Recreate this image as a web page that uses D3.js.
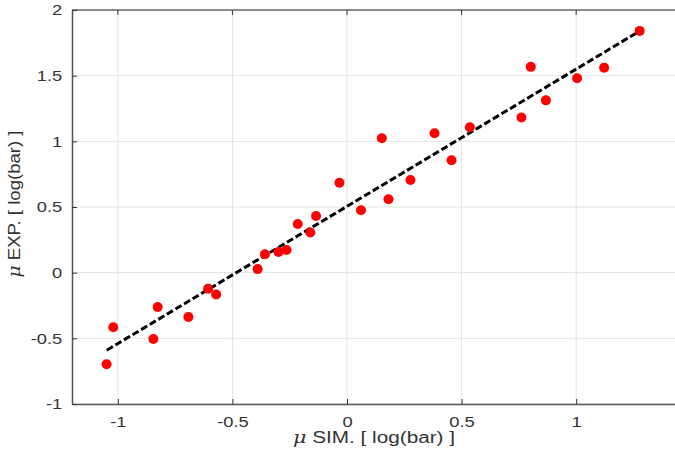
<!DOCTYPE html>
<html>
<head>
<meta charset="utf-8">
<script src="https://cdn.jsdelivr.net/npm/d3@7"></script>
<style>
	body { margin: 0; background: #fff; }
	svg { display: block; font-family: "Liberation Sans", Arial, sans-serif; }
</style>
</head>
<body>
<div id="chart"></div>
<script>
// measured values (log bar)
const simValues = [-1.049, -1.020, -0.826, -0.845, -0.692, -0.606, -0.571, -0.390, -0.358, -0.299,
	-0.264, -0.215, -0.160, -0.135, -0.033, 0.061, 0.152, 0.181, 0.277, 0.382,
	0.456, 0.536, 0.761, 0.802, 0.868, 1.004, 1.122, 1.277]
const expValues = [-0.698, -0.416, -0.261, -0.505, -0.337, -0.122, -0.166, 0.027, 0.140, 0.158,
	0.173, 0.371, 0.306, 0.432, 0.685, 0.475, 1.024, 0.559, 0.706, 1.062,
	0.856, 1.107, 1.182, 1.567, 1.312, 1.481, 1.561, 1.841]
// linear fit
const fitSlope = 1.045
const fitIntercept = 0.505
const fitRange = [-1.048, 1.262]

const xTicks = [-1, -0.5, 0, 0.5, 1]
const yTicks = [-1, -0.5, 0, 0.5, 1, 1.5, 2]

const width = 675
const height = 468
const margin = ({ top: 10, right: -2, bottom: 64, left: 72 })
const stretch = 1.22 // the picture text is a bit wide

const x = d3.scaleLinear().domain([-1.2, 1.44]).range([margin.left, width - margin.right])
const y = d3.scaleLinear().domain([-1, 2]).range([height - margin.bottom, margin.top])

const svg = d3.select("#chart").append("svg")
	.attr("width", width)
	.attr("height", height)

// grid
svg.append("g").selectAll("line")
	.data(xTicks)
	.join("line")
	.attr("x1", d => x(d)).attr("x2", d => x(d))
	.attr("y1", y(-1)).attr("y2", y(2))
	.attr("stroke", "#e3e3e3").attr("stroke-width", 1)
svg.append("g").selectAll("line")
	.data(yTicks)
	.join("line")
	.attr("x1", x.range()[0]).attr("x2", x.range()[1])
	.attr("y1", d => y(d)).attr("y2", d => y(d))
	.attr("stroke", "#e3e3e3").attr("stroke-width", 1)

// box top
svg.append("line")
	.attr("x1", x.range()[0]).attr("x2", x.range()[1])
	.attr("y1", y(2)).attr("y2", y(2))
	.attr("stroke", "#8c8c8c").attr("stroke-width", 2)

// axes (ticks pointing inside, matlab style)
const fmt = d => String(d)
const xAxis = g => g.attr("transform", `translate(0,${y(-1)})`)
	.call(d3.axisBottom(x).tickValues(xTicks).tickFormat(fmt).tickSizeInner(-5).tickSizeOuter(0).tickPadding(12))
const yAxis = g => g.attr("transform", `translate(${x.range()[0]},0)`)
	.call(d3.axisLeft(y).tickValues(yTicks).tickFormat(fmt).tickSizeInner(-5).tickSizeOuter(0).tickPadding(8))

for (const ax of [xAxis, yAxis]) {
	svg.append("g")
		.call(ax)
		.call(g => g.select(".domain").attr("stroke", "#555").attr("stroke-width", 1.5))
		.call(g => g.selectAll(".tick line").attr("stroke", "#333"))
		.call(g => g.selectAll(".tick text")
			.attr("fill", "#333")
			.style("font-size", "15px")
			.attr("transform", `scale(${stretch},1)`))
}
// top ticks
svg.append("g").selectAll("line")
	.data(xTicks)
	.join("line")
	.attr("x1", d => x(d)).attr("x2", d => x(d))
	.attr("y1", y(2)).attr("y2", y(2) + 5)
	.attr("stroke", "#333")

// fit line
svg.append("line")
	.attr("x1", x(fitRange[0])).attr("y1", y(fitSlope * fitRange[0] + fitIntercept))
	.attr("x2", x(fitRange[1])).attr("y2", y(fitSlope * fitRange[1] + fitIntercept))
	.attr("stroke", "#000")
	.attr("stroke-width", 3)
	.attr("stroke-dasharray", "7,3")

// points
svg.append("g").selectAll("circle")
	.data(simValues.map((v, i) => ({ sim: v, exp: expValues[i] })))
	.join("circle")
	.attr("cx", d => x(d.sim))
	.attr("cy", d => y(d.exp))
	.attr("r", 5)
	.attr("fill", "#ff0000")

// labels
const xLabel = svg.append("text")
	.attr("x", 374)
	.attr("y", 443)
	.attr("text-anchor", "middle")
	.attr("fill", "#333")
	.attr("textLength", 162)
	.attr("lengthAdjust", "spacingAndGlyphs")
	.style("font-size", "16px")
xLabel.append("tspan").attr("font-style", "italic").attr("font-family", "'DejaVu Serif', serif").text("\u03bc")
xLabel.append("tspan").text(" SIM. [ log(bar) ]")

const yLabel = svg.append("text")
	.attr("transform", `translate(20,204) rotate(-90)`)
	.attr("text-anchor", "middle")
	.attr("fill", "#333")
	.attr("textLength", 147)
	.attr("lengthAdjust", "spacingAndGlyphs")
	.style("font-size", "17px")
yLabel.append("tspan").attr("font-style", "italic").attr("font-family", "'DejaVu Serif', serif").text("\u03bc")
yLabel.append("tspan").text(" EXP. [ log(bar) ]")
</script>
</body>
</html>
